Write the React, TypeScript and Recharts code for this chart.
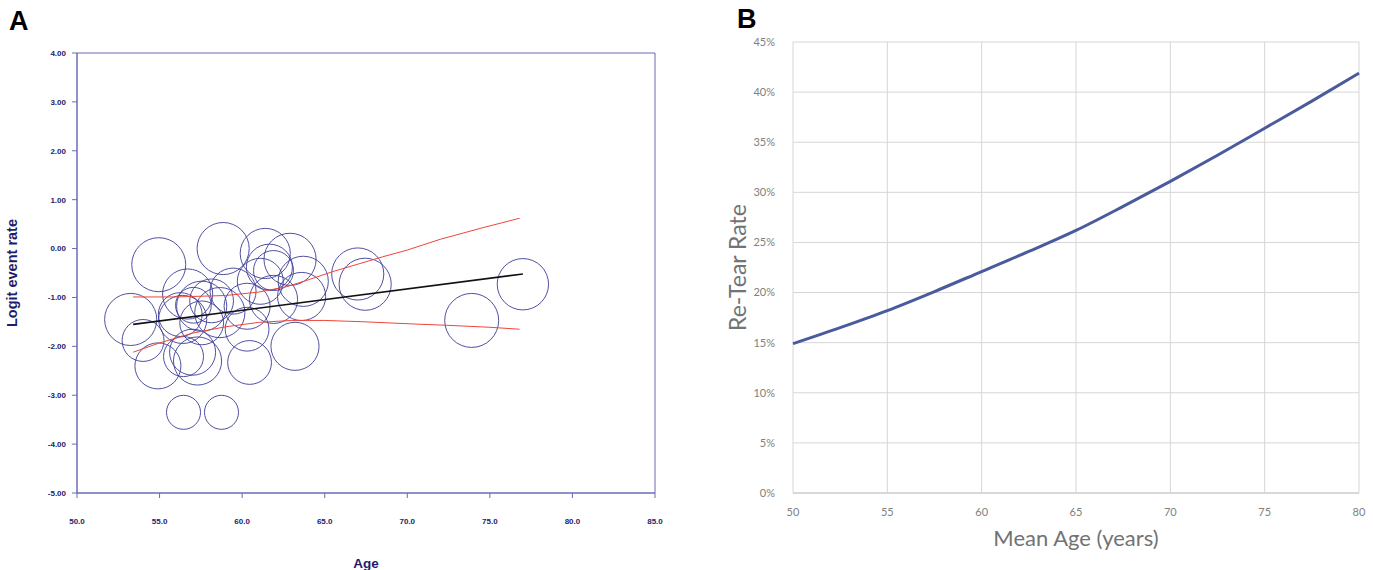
import React from 'react'
import {
  ScatterChart, Scatter, XAxis, YAxis, ZAxis, ReferenceArea,
  LineChart, Line, CartesianGrid,
} from 'recharts'

// Panel A: meta-regression of logit event rate on age (bubble = study weight, %)
const studyAge = [
  58.85, 54.95, 61.4, 62.9, 61.65, 67.0, 67.45, 77.0, 73.9, 53.25, 54.0, 54.9,
  56.45, 58.75, 60.45, 63.2, 56.7, 56.4, 57.55, 57.0, 57.3, 56.45, 57.05, 58.15,
  59.45, 60.3, 60.3, 61.1, 63.7, 63.6, 58.65, 57.55, 61.9, 56.25, 61.9,
]
const studyLogit = [
  0.0, -0.33, -0.1, -0.22, -0.38, -0.52, -0.73, -0.73, -1.47, -1.45, -1.88, -2.4,
  -3.35, -3.35, -2.33, -2.0, -0.93, -1.45, -1.18, -2.12, -2.3, -2.21, -1.16, -1.07,
  -0.87, -1.18, -1.65, -0.67, -0.67, -0.98, -1.31, -1.52, -1.04, -1.35, -0.45,
]
const studyWeight = [
  6.8, 7.3, 6.3, 6.8, 5.3, 6.8, 6.8, 6.6, 7.3, 6.8, 4.4, 5.3,
  2.9, 2.9, 4.8, 5.8, 6.3, 5.8, 6.3, 5.3, 5.8, 4.0, 3.2, 4.8,
  5.3, 5.3, 4.8, 5.3, 6.3, 5.8, 6.3, 4.8, 5.8, 4.8, 4.0,
]

const fitAge = [53.4, 77.0]
const fitLogit = [-1.55, -0.52]

const upperAge = [53.4, 56, 59, 61, 62.7, 64, 65.5, 67, 68.5, 70, 72, 74.5, 76.8]
const upperLogit = [-0.99, -0.99, -0.96, -0.89, -0.78, -0.64, -0.47, -0.32, -0.17, -0.03, 0.19, 0.42, 0.62]
const lowerAge = [53.4, 55, 57, 59, 61, 63, 65, 67.5, 70.2, 72.4, 75, 76.8]
const lowerLogit = [-2.12, -1.93, -1.73, -1.6, -1.51, -1.47, -1.47, -1.5, -1.54, -1.57, -1.61, -1.65]

const ageTicksA = [50, 55, 60, 65, 70, 75, 80, 85]
const logitTicks = [-5, -4, -3, -2, -1, 0, 1, 2, 3, 4]

// Panel B: predicted re-tear rate by mean age
const meanAge = [50, 52.5, 55, 57.5, 60, 62.5, 65, 67.5, 70, 72.5, 75, 77.5, 80]
const reTearRate = [14.9, 16.5, 18.2, 20.1, 22.1, 24.1, 26.2, 28.6, 31.1, 33.7, 36.4, 39.1, 41.9]
const ageTicksB = [50, 55, 60, 65, 70, 75, 80]
const rateTicks = [0, 5, 10, 15, 20, 25, 30, 35, 40, 45]

const studies = studyAge.map((a, i) => ({ age: a, logit: studyLogit[i], w: studyWeight[i] }))
const toPts = (xs: number[], ys: number[]) => xs.map((x, i) => ({ age: x, logit: ys[i] }))
const rateData = meanAge.map((a, i) => ({ age: a, rate: reTearRate[i] }))

const arial = 'Arial, "Liberation Sans", sans-serif'
const navy = '#1d1d6b'
const axisBlue = '#6a6ab8'
const tickA = { fontSize: 8, fontWeight: 700, fill: navy, fontFamily: arial }
const noDot = () => <g />

function PanelA() {
  return (
    <ScatterChart width={700} height={570} margin={{ top: 53, right: 45, bottom: 0, left: 0 }}>
      <ReferenceArea x1={50} x2={85} y1={-5} y2={4} fill="none" stroke={axisBlue} strokeWidth={1} ifOverflow="visible" />
      <XAxis
        type="number" dataKey="age" domain={[50, 85]} ticks={ageTicksA} height={77}
        tickFormatter={(v: number) => v.toFixed(1)} tick={tickA}
        stroke={axisBlue} tickSize={5} tickMargin={20} allowDataOverflow
        label={{ value: 'Age', position: 'insideBottom', offset: 2, fontSize: 13.5, fontWeight: 700, fill: navy, fontFamily: arial }}
      />
      <YAxis
        type="number" dataKey="logit" domain={[-5, 4]} ticks={logitTicks} width={77}
        tickFormatter={(v: number) => v.toFixed(2)} tick={tickA}
        stroke={axisBlue} tickSize={5} tickMargin={6} allowDataOverflow
        label={{ value: 'Logit event rate', angle: -90, position: 'insideLeft', offset: 12, textAnchor: 'middle', fontSize: 14.5, fontWeight: 700, fill: navy, fontFamily: arial }}
      />
      <ZAxis type="number" dataKey="w" domain={[0, 8]} range={[0, 2510]} />
      <Scatter data={studies} shape="circle" fill="none" stroke="#3c3c96" strokeWidth={0.9} isAnimationActive={false} />
      <Scatter data={toPts(upperAge, upperLogit)} line={{ stroke: '#f0453a', strokeWidth: 1 }} shape={noDot} isAnimationActive={false} />
      <Scatter data={toPts(lowerAge, lowerLogit)} line={{ stroke: '#f0453a', strokeWidth: 1 }} shape={noDot} isAnimationActive={false} />
      <Scatter data={toPts(fitAge, fitLogit)} line={{ stroke: '#111111', strokeWidth: 1.6 }} shape={noDot} isAnimationActive={false} />
    </ScatterChart>
  )
}

const grayText = '#737373'
const lato = 'Lato, "Open Sans", sans-serif'
const tickB = { fontSize: 11, fill: '#808080', fontFamily: lato }

function PanelB() {
  return (
    <LineChart width={673} height={570} data={rateData} margin={{ top: 42, right: 14, bottom: 0, left: 0 }}>
      <CartesianGrid stroke="#d6d6d6" horizontalValues={rateTicks} verticalValues={ageTicksB} />
      <XAxis
        type="number" dataKey="age" domain={[50, 80]} ticks={ageTicksB} height={77}
        tick={tickB} tickLine={false} stroke="#c4c4c4" tickMargin={9}
        label={{ value: 'Mean Age (years)', position: 'insideBottom', offset: 24, fontSize: 22, fill: grayText, fontFamily: lato }}
      />
      <YAxis
        type="number" domain={[0, 45]} ticks={rateTicks} width={93}
        tickFormatter={(v: number) => `${v}%`} tick={tickB} tickLine={false} axisLine={false} tickMargin={12}
        label={{ value: 'Re-Tear Rate', angle: -90, position: 'insideLeft', offset: 38, textAnchor: 'middle', fontSize: 23, fill: grayText, fontFamily: lato }}
      />
      <Line type="monotone" dataKey="rate" stroke="#4a5b9d" strokeWidth={3} dot={false} isAnimationActive={false} />
    </LineChart>
  )
}

export default function App() {
  const panelLabel: React.CSSProperties = {
    position: 'absolute', fontFamily: arial,
    fontWeight: 700, fontSize: 27, color: '#000', lineHeight: 1,
  }
  return (
    <div style={{ position: 'absolute', left: 0, top: 0, width: 1373, height: 570, background: '#fff', overflow: 'hidden' }}>
      <div style={{ position: 'absolute', left: 0, top: 0 }}><PanelA /></div>
      <div style={{ position: 'absolute', left: 700, top: 0 }}><PanelB /></div>
      <div style={{ ...panelLabel, left: 9, top: 8 }}>A</div>
      <div style={{ ...panelLabel, left: 737, top: 6 }}>B</div>
    </div>
  )
}
